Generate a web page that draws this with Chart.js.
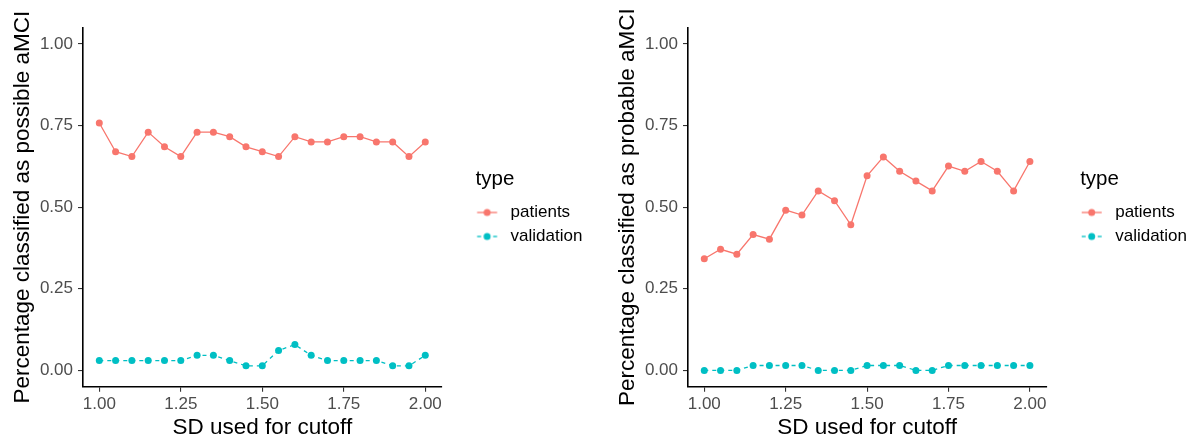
<!DOCTYPE html>
<html>
<head>
<meta charset="utf-8">
<title>aMCI classification by SD cutoff</title>
<script src="https://cdn.jsdelivr.net/npm/chart.js@4.4.1/dist/chart.umd.min.js"></script>
<style>
	body { margin: 0; background: #fff; }
	#wrap { position: relative; width: 1197px; height: 441px; }
	.panel { position: absolute; top: 0; }
</style>
</head>
<body>
<div id="wrap">
	<div class="panel" style="left:0"><canvas id="possible" width="600" height="441"></canvas></div>
	<div class="panel" style="left:600px"><canvas id="probable" width="597" height="441"></canvas></div>
</div>
<script>
// data
const sdCutoff = [1.00, 1.05, 1.10, 1.15, 1.20, 1.25, 1.30, 1.35, 1.40, 1.45, 1.50,
	1.55, 1.60, 1.65, 1.70, 1.75, 1.80, 1.85, 1.90, 1.95, 2.00];
const xTicks = [1.00, 1.25, 1.50, 1.75, 2.00];
const yTicks = [0.00, 0.25, 0.50, 0.75, 1.00];
const seriesNames = ['patients', 'validation'];

const possiblePatients = [0.758, 0.670, 0.655, 0.730, 0.685, 0.655, 0.730, 0.730, 0.716, 0.685, 0.670,
	0.655, 0.716, 0.700, 0.700, 0.716, 0.716, 0.700, 0.700, 0.655, 0.700];
const possibleValidation = [0.030, 0.030, 0.030, 0.030, 0.030, 0.030, 0.046, 0.046, 0.030, 0.014, 0.014,
	0.061, 0.079, 0.046, 0.030, 0.030, 0.030, 0.030, 0.014, 0.014, 0.046];

const probablePatients = [0.342, 0.371, 0.356, 0.416, 0.402, 0.491, 0.476, 0.550, 0.520, 0.446, 0.596,
	0.654, 0.610, 0.580, 0.550, 0.626, 0.610, 0.640, 0.610, 0.550, 0.640];
const probableValidation = [0.000, 0.000, 0.000, 0.015, 0.015, 0.015, 0.015, 0.000, 0.000, 0.000, 0.015,
	0.015, 0.015, 0.000, 0.000, 0.015, 0.015, 0.015, 0.015, 0.015, 0.015];

const FONT = '"Liberation Sans", Arial, sans-serif';
const RED = '#F8766D';
const TEAL = '#00BFC4';

function toPoints(values) {
	return sdCutoff.map(function (x, i) { return {x: x, y: values[i]}; });
}

// legend key: short line with a dot, like ggplot's
function makeKey(color, dashed) {
	var c = document.createElement('canvas');
	c.width = 40;
	c.height = 16;
	var g = c.getContext('2d');
	g.strokeStyle = color;
	g.lineWidth = 1.3;
	if (dashed) g.setLineDash([4, 4]);
	g.beginPath();
	g.moveTo(4.75, 8);
	g.lineTo(24.75, 8);
	g.stroke();
	g.setLineDash([]);
	g.fillStyle = color;
	g.beginPath();
	g.arc(14.75, 8, 3.5, 0, Math.PI * 2);
	g.fill();
	return c;
}
const legendKeys = [makeKey(RED, false), makeKey(TEAL, true)];

// rotated y title, drawn without chart.js squeezing it to the axis height
const yTitlePlugin = {
	id: 'yTitle',
	afterDraw(chart, args, opts) {
		var ctx = chart.ctx;
		var area = chart.chartArea;
		ctx.save();
		ctx.translate(opts.x, (area.top + area.bottom) / 2);
		ctx.rotate(-Math.PI / 2);
		ctx.font = '22.5px ' + FONT;
		ctx.fillStyle = '#000';
		ctx.textAlign = 'center';
		ctx.textBaseline = 'middle';
		ctx.fillText(opts.text, 0, 0);
		ctx.restore();
	}
};

function axisStyle(min, max, ticks) {
	return {
		type: 'linear',
		min: min,
		max: max,
		afterBuildTicks: function (scale) {
			scale.ticks = ticks.map(function (v) { return {value: v}; });
		},
		ticks: {
			callback: function (v) { return v.toFixed(2); },
			color: '#4D4D4D',
			font: {size: 17, family: FONT},
			autoSkip: false,
			maxRotation: 0
		},
		grid: {display: true, drawOnChartArea: false, tickLength: 5, color: '#333333', lineWidth: 1.1},
		border: {display: true, color: '#000', width: 1.6}
	};
}

function createPanel(canvas, yTitle, patients, validation, cfg) {
	var xAxis = axisStyle(0.95, 2.05, xTicks);
	xAxis.ticks.padding = 2;
	xAxis.title = {display: true, text: 'SD used for cutoff', color: '#000',
		font: {size: 22.5, family: FONT}, padding: {top: 0, bottom: 0}};
	xAxis.afterFit = function (s) { s.height = 54.3; };

	var yAxis = axisStyle(-0.05, 1.05, yTicks);
	yAxis.ticks.padding = 5;
	yAxis.afterFit = function (s) { s.width = cfg.axisWidth; };

	return new Chart(canvas, {
		type: 'line',
		data: {
			datasets: [
				{
					label: seriesNames[0],
					data: toPoints(patients),
					borderColor: RED,
					backgroundColor: RED,
					borderWidth: 1.3,
					pointRadius: 3.5,
					pointBorderWidth: 0,
					pointHoverRadius: 3.5
				},
				{
					label: seriesNames[1],
					data: toPoints(validation),
					borderColor: TEAL,
					backgroundColor: TEAL,
					borderWidth: 1.3,
					borderDash: [4, 4],
					pointRadius: 3.5,
					pointBorderWidth: 0,
					pointHoverRadius: 3.5
				}
			]
		},
		options: {
			responsive: false,
			animation: false,
			events: [],
			layout: {padding: {top: 27.7, bottom: 0, left: 0, right: cfg.padRight}},
			scales: {
				x: xAxis,
				y: yAxis,
				gap: {
					type: 'linear',
					position: 'right',
					display: true,
					grid: {display: false},
					ticks: {display: false},
					border: {display: false},
					afterFit: function (s) { s.width = 34; }
				}
			},
			plugins: {
				tooltip: {enabled: false},
				yTitle: {text: yTitle, x: cfg.titleX},
				legend: {
					position: 'right',
					align: 'center',
					fullSize: false,
					maxWidth: 200,
					title: {display: true, text: 'type', color: '#000', position: 'start',
						font: {size: 20.5, family: FONT}, padding: {top: 7, bottom: 3}},
					labels: {
						usePointStyle: true,
						pointStyleWidth: 19.5,
						padding: 7,
						color: '#000',
						font: {size: 17, family: FONT},
						generateLabels: function (chart) {
							var items = Chart.defaults.plugins.legend.labels.generateLabels(chart);
							items.forEach(function (it, i) { it.pointStyle = legendKeys[i]; });
							return items;
						}
					}
				}
			}
		},
		plugins: [yTitlePlugin]
	});
}

createPanel(document.getElementById('possible'), 'Percentage classified as possible aMCI',
	possiblePatients, possibleValidation, {axisWidth: 83, titleX: 23, padRight: 7.6});
createPanel(document.getElementById('probable'), 'Percentage classified as probable aMCI',
	probablePatients, probableValidation, {axisWidth: 88, titleX: 28, padRight: 0});
</script>
</body>
</html>
